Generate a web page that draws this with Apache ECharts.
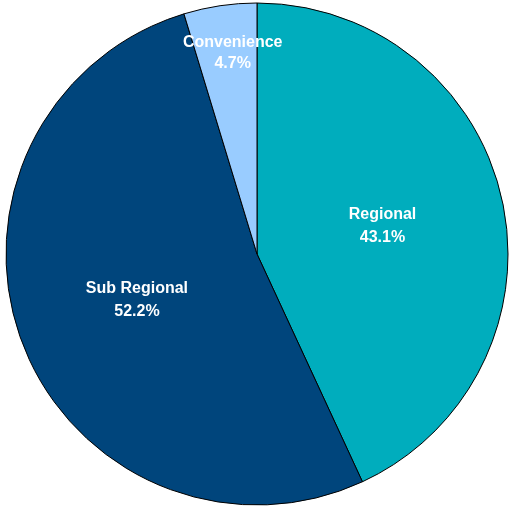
<!DOCTYPE html>
<html>
<head>
<meta charset="utf-8">
<script src="https://cdn.jsdelivr.net/npm/echarts@6/dist/echarts.min.js"></script>
<style>html,body{margin:0;padding:0;background:#fff;}#c{width:510px;height:506px;}</style>
</head>
<body>
<div id="c"></div>
<script>
var categories = ['Regional', 'Sub Regional', 'Convenience'];
var values = [43.1, 52.2, 4.7];
var colors = ['#00ADBD', '#00457C', '#99CCFF'];

var chart = echarts.init(document.getElementById('c'), null, {renderer: 'canvas'});
var data = categories.map(function (c, i) {
  return {name: c, value: values[i], itemStyle: {color: colors[i]}, label: {show: c !== 'Convenience'}};
});
var labelData = categories.map(function (c, i) {
  return {name: c, value: values[i], label: {show: c === 'Convenience'}};
});
var lblFmt = function (p) { return p.name + '\n' + p.value.toFixed(1) + '%'; };
var lblStyle = {
  position: 'inside',
  formatter: lblFmt,
  color: '#fff',
  fontFamily: 'Liberation Sans, Arial',
  fontWeight: 'bold',
  fontSize: 16,
  lineHeight: 23
};
chart.setOption({
  animation: false,
  series: [{
    type: 'pie',
    center: [257, 254],
    radius: [0, 251],
    startAngle: 90,
    clockwise: true,
    data: data,
    itemStyle: {borderColor: '#000', borderWidth: 1},
    label: lblStyle,
    labelLine: {show: false},
    emphasis: {disabled: true}
  }, {
    type: 'pie',
    center: [257, 254],
    radius: [180, 226],
    startAngle: 90,
    clockwise: true,
    silent: true,
    z: 5,
    data: labelData,
    itemStyle: {color: 'rgba(0,0,0,0)', borderWidth: 0},
    label: Object.assign({}, lblStyle, {lineHeight: 21, offset: [6, 3]}),
    labelLine: {show: false},
    emphasis: {disabled: true}
  }]
});
</script>
</body>
</html>
